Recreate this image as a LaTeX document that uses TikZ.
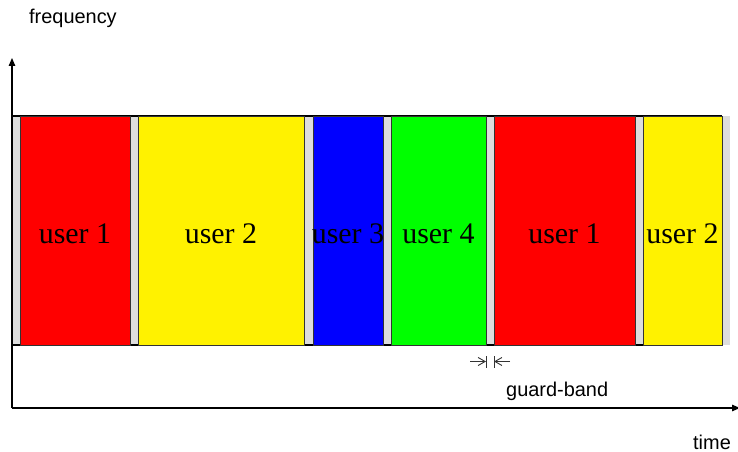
\documentclass[tikz,border=0pt]{standalone}
\usepackage{fontspec}
\setmainfont{Liberation Sans}
\newfontfamily\userfont{Liberation Serif}
\usetikzlibrary{arrows.meta}
\definecolor{bandgray}{RGB}{221,221,221}
\tikzset{
  slot/.style={draw=black!80, line width=0.6bp, inner sep=0pt, outer sep=0pt,
    anchor=north west, minimum height=229bp},
  usertext/.style={inner sep=0pt, font=\userfont\fontsize{30}{36}\selectfont,
    text height=25bp, text depth=0bp},
  axislabel/.style={inner sep=0pt, anchor=base west, font=\fontsize{20}{24}\selectfont},
  axis/.style={line width=1.3bp, -{Triangle[length=8bp,width=6.5bp]}},
  guard/.style={line width=0.9bp, draw=black!80},
  guardarrow/.style={guard, -{Straight Barb[length=7bp,width=8bp]}},
}
\begin{document}
\begin{tikzpicture}[x=1bp,y=-1bp]
  \useasboundingbox (0,0) rectangle (738,452);

  % gray guard band behind the user slots
  \fill[bandgray] (12,116) rectangle (730,345);
  \draw[line width=1.3bp] (12,116) -- (722,116);
  \draw[line width=1.3bp] (12,345) -- (722,345);

  % user slots
  \node[slot, fill=red,    minimum width=110bp] (s1) at (20,116)  {};
  \node[slot, fill=yellow, minimum width=166bp] (s2) at (138,116) {};
  \node[slot, fill=blue,   minimum width=70bp]  (s3) at (313,116) {};
  \node[slot, fill=green,  minimum width=95bp]  (s4) at (391,116) {};
  \node[slot, fill=red,    minimum width=141bp] (s5) at (494,116) {};
  \node[slot, fill=yellow, minimum width=79bp]  (s6) at (643,116) {};

  \node[usertext] at (s1) {user 1};
  \node[usertext] at (s2) {user 2};
  \node[usertext] at (s3) {user 3};
  \node[usertext] at (s4) {user 4};
  \node[usertext] at (s5) {user 1};
  \node[usertext] at (s6) {user 2};

  % axes
  \coordinate (origin) at (12,408);
  \coordinate (ftip) at (12,58);
  \coordinate (ttip) at (740,408);
  \draw[axis] (origin) -- (ftip);
  \draw[axis] (origin) -- (ttip);

  \node[axislabel] (freq) at (29,24) {frequency};
  \node[axislabel] (time) at (693,449) {time};

  % guard-band marker
  \coordinate (gl) at (486,361.5);
  \coordinate (gr) at (494,361.5);
  \draw[guard] (486,356) -- (486,368);
  \draw[guard] (494,356) -- (494,368);
  \draw[guardarrow] (470,361.5) -- (gl);
  \draw[guardarrow] (510,361.5) -- (gr);
  \node[axislabel] (gb) at (506,396) {guard-band};
\end{tikzpicture}
\end{document}
